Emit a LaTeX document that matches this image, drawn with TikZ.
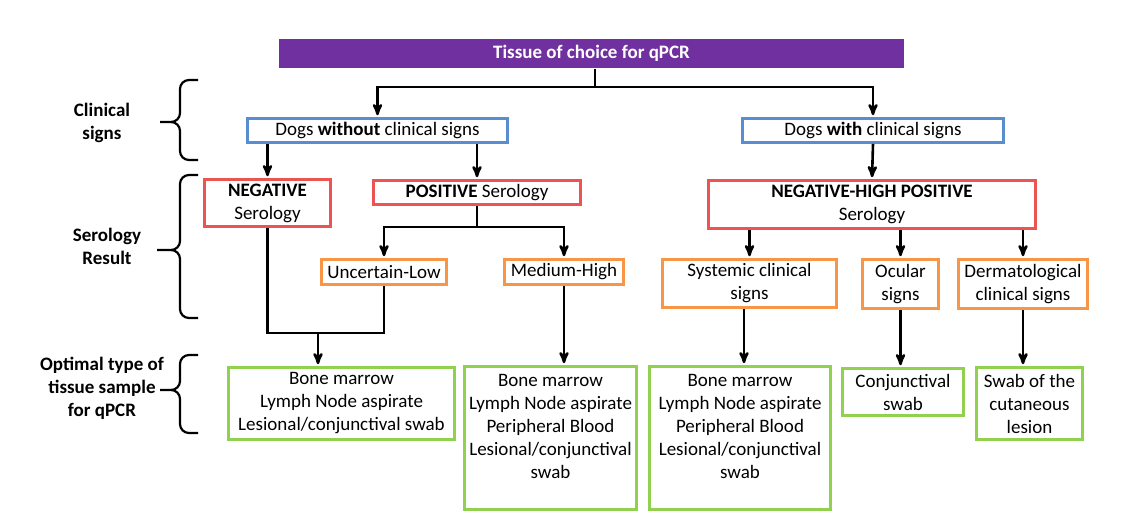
\documentclass[tikz,border=0pt]{standalone}
\usepackage{fontspec}
\setmainfont{Carlito}
\usetikzlibrary{arrows, positioning}

\definecolor{titlepurple}{RGB}{112,48,160}
\definecolor{dogsblue}{RGB}{88,141,210}
\definecolor{serored}{RGB}{236,84,84}
\definecolor{levelorange}{RGB}{247,150,70}
\definecolor{tissuegreen}{RGB}{146,208,80}

\begin{document}
\begin{tikzpicture}[x=1pt,y=-1pt,->,>=stealth',shorten >=2pt,line width=2.6pt,
    box/.style={draw,line width=2.6pt,align=center,inner sep=0pt,font=\fontsize{19}{23}\selectfont},
    title node/.style={fill=titlepurple,text=white,inner sep=0pt,minimum width=625pt,minimum height=29pt,font=\fontsize{19}{23}\selectfont\bfseries},
    blue node/.style={box,draw=dogsblue},
    red node/.style={box,draw=serored},
    orange node/.style={box,draw=levelorange},
    green node/.style={box,draw=tissuegreen},
    side label/.style={align=center,font=\fontsize{19}{23}\selectfont\bfseries},
    bracket/.style={-,shorten >=0pt,line width=2.2pt,rounded corners=9pt}]

    \useasboundingbox (0,0) rectangle (1134,529);

    % top
    \node[title node] (title) at (591.5,53.5) {Tissue of choice for qPCR};

    % clinical signs
    \node[blue node,minimum width=260pt,minimum height=24pt] (without) at (377.5,130.5) {Dogs \textbf{without} clinical signs};
    \node[blue node,minimum width=261pt,minimum height=24pt] (with)    at (873,130.5)   {Dogs \textbf{with} clinical signs};

    % serology
    \node[red node,minimum width=126pt,minimum height=47pt] (neg)     at (267.5,203)   {\textbf{NEGATIVE}\\Serology};
    \node[red node,minimum width=207pt,minimum height=24pt] (pos)     at (477,192.5)   {\textbf{POSITIVE} Serology};
    \node[red node,minimum width=327pt,minimum height=48pt] (neghigh) at (872,204.5)   {\textbf{NEGATIVE-HIGH POSITIVE}\\Serology};

    \node[orange node,minimum width=125pt,minimum height=25pt] (low)      at (384,272)     {Uncertain-Low};
    \node[orange node,minimum width=119pt,minimum height=25pt] (high)     at (564,272)     {Medium-High};
    \node[orange node,minimum width=174pt,minimum height=48pt] (systemic) at (749.5,283.5) {Systemic clinical\\signs};
    \node[orange node,minimum width=76pt,minimum height=49pt]  (ocular)   at (900.5,284)   {Ocular\\signs};
    \node[orange node,minimum width=129pt,minimum height=49pt] (derm)     at (1023,284)    {Dermatological\\clinical signs};

    % tissue samples
    \node[green node,minimum width=226pt,minimum height=72pt]  (boneA)  at (341.5,403.5) {Bone marrow\\Lymph Node aspirate\\Lesional/conjunctival swab};
    \node[green node,minimum width=172pt,minimum height=143pt] (boneB)  at (550.5,438)   {Bone marrow\\Lymph Node aspirate\\Peripheral Blood\\Lesional/conjunctival\\swab\\\mbox{}};
    \node[green node,minimum width=181pt,minimum height=143pt] (boneC)  at (740,438)     {Bone marrow\\Lymph Node aspirate\\Peripheral Blood\\Lesional/conjunctival\\swab\\\mbox{}};
    \node[green node,minimum width=121pt,minimum height=47pt]  (conj)   at (903,392)     {Conjunctival\\swab};
    \node[green node,minimum width=106pt,minimum height=72pt]  (cutan)  at (1029.5,403.5) {Swab of the\\cutaneous\\lesion};

    % side labels
    \node[side label] (clin)  at (102,122.5) {Clinical\\signs};
    \node[side label] (sero)  at (107,246)   {Serology\\Result};
    \node[side label] (optim) at (102,388)   {Optimal type of\\tissue sample\\for qPCR};

    \draw[bracket] (198,80) -- (180,80) -- (180,122) -- (160,122) (160,122) -- (180,122) -- (180,160) -- (198,160);
    \draw[bracket] (198,175) -- (180,175) -- (180,250) -- (157,250) (157,250) -- (180,250) -- (180,318) -- (198,318);
    \draw[bracket] (198,355) -- (180,355) -- (180,390) -- (160,390) (160,390) -- (180,390) -- (180,433) -- (198,433);

    % connectors
    \coordinate (split) at (595,87);
    \coordinate (posjoin) at (477,227);
    \coordinate (merge) at (318,333);

    \draw (split |- title.south) -- (split) -| (without.north);
    \draw (split) -| (with.north);

    \path (without.south -| neg.north) edge (neg.north)
          (without.south -| pos.north) edge (pos.north)
          (with.south) edge (neghigh.north);

    \draw (pos.south) -- (posjoin) -| (low.north);
    \draw (posjoin) -| (high.north);

    \path (neghigh.south -| systemic.north) edge (systemic.north)
          (neghigh.south -| ocular.north)   edge (ocular.north)
          (neghigh.south -| derm.north)     edge (derm.north);

    \draw[-,shorten >=0pt] (neg.south) |- (low.south |- merge) -- (low.south);
    \path (merge) edge (merge |- boneA.north)
          (high.south) edge (high.south |- boneB.north)
          (systemic.south -| 744,0) edge (boneC.north -| 744,0)
          (ocular.south) edge (ocular.south |- conj.north)
          (derm.south) edge (derm.south |- cutan.north);

\end{tikzpicture}
\end{document}
